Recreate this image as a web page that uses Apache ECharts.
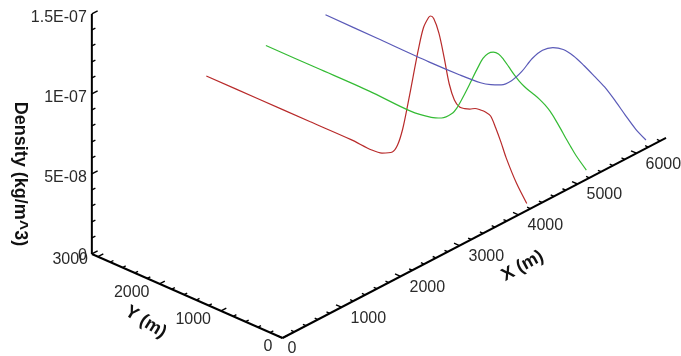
<!DOCTYPE html>
<html>
<head>
<meta charset="utf-8">
<script src="https://cdn.jsdelivr.net/npm/echarts@6/dist/echarts.min.js"></script>
<style>
  html, body { margin: 0; padding: 0; background: #fff; }
  #chart { width: 681px; height: 356px; }
</style>
</head>
<body>
<div id="chart"></div>
<script>
// Density sampled along three straight probe tracks.
// X, Y in metres, density in kg/m^3.
const redX = [1940, 2295, 2650, 2934, 3076, 3146, 3217, 3253, 3288, 3324, 3359, 3395, 3430, 3466, 3480, 3501, 3537, 3572, 3608, 3643, 3679, 3714, 3750, 3785, 3821, 3856, 3892, 3927, 3963, 3998, 4069, 4140];
const redY = [3100, 2600, 2100, 1700, 1500, 1400, 1300, 1250, 1200, 1150, 1100, 1050, 1000, 950, 930, 900, 850, 800, 750, 700, 650, 600, 550, 500, 450, 400, 350, 300, 250, 200, 100, 0];
const redDensity = [7.39e-8, 6.13e-8, 4.87e-8, 3.87e-8, 3.29e-8, 3.13e-8, 3.23e-8, 3.68e-8, 4.70e-8, 6.28e-8, 7.98e-8, 9.68e-8, 11.08e-8, 11.75e-8, 11.85e-8, 11.70e-8, 10.81e-8, 9.33e-8, 7.66e-8, 6.68e-8, 6.25e-8, 6.17e-8, 6.16e-8, 6.21e-8, 6.14e-8, 6.03e-8, 5.79e-8, 5.06e-8, 4.19e-8, 3.24e-8, 1.68e-8, 0.44e-8];

const greenX = [2950, 3305, 3660, 3943, 4085, 4156, 4227, 4263, 4298, 4334, 4369, 4405, 4440, 4476, 4511, 4547, 4582, 4618, 4653, 4689, 4724, 4760, 4795, 4831, 4866, 4902, 4937, 4973, 5008, 5044, 5079, 5150];
const greenY = [3100, 2600, 2100, 1700, 1500, 1400, 1300, 1250, 1200, 1150, 1100, 1050, 1000, 950, 900, 850, 800, 750, 700, 650, 600, 550, 500, 450, 400, 350, 300, 250, 200, 150, 100, 0];
const greenDensity = [7.35e-8, 6.09e-8, 4.83e-8, 3.71e-8, 3.39e-8, 3.38e-8, 3.69e-8, 4.08e-8, 4.66e-8, 5.30e-8, 5.98e-8, 6.64e-8, 7.23e-8, 7.56e-8, 7.66e-8, 7.56e-8, 7.23e-8, 6.78e-8, 6.33e-8, 5.93e-8, 5.61e-8, 5.34e-8, 5.11e-8, 4.84e-8, 4.52e-8, 4.13e-8, 3.64e-8, 3.09e-8, 2.52e-8, 1.98e-8, 1.46e-8, 0.58e-8];

const blueX = [3960, 4315, 4670, 4883, 5025, 5095, 5166, 5237, 5308, 5379, 5450, 5521, 5592, 5663, 5734, 5805, 5876, 5947, 6018, 6089, 6160];
const blueY = [3100, 2600, 2100, 1800, 1600, 1500, 1400, 1300, 1200, 1100, 1000, 900, 800, 700, 600, 500, 400, 300, 200, 100, 0];
const blueDensity = [7.33e-8, 6.02e-8, 4.71e-8, 3.99e-8, 3.57e-8, 3.49e-8, 3.51e-8, 3.80e-8, 4.41e-8, 5.25e-8, 5.80e-8, 6.00e-8, 5.91e-8, 5.54e-8, 4.98e-8, 4.35e-8, 3.70e-8, 2.89e-8, 2.01e-8, 1.17e-8, 0.52e-8];

// Axis tick labels
const xTickValues = [0, 1000, 2000, 3000, 4000, 5000, 6000];
const yTickValues = [0, 1000, 2000, 3000];
const densityTickValues = [0, 5e-8, 1e-7, 1.5e-7];
const densityTickLabels = ['0', '5E-08', '1E-07', '1.5E-07'];

// ---- view setup ----
const X_MAX = 6500, Y_MAX = 3100, D_MAX = 1.5e-7;
// oblique 3D view: screen position of the origin and screen step per unit of each axis
const VIEW = { ox: 282.5, oy: 338, ex: [0.059, -0.0308], ey: [-0.0615, -0.0271], ed: -1.6e9 };

function project(x, y, d) {
  return [
    VIEW.ox + x * VIEW.ex[0] + y * VIEW.ey[0],
    VIEW.oy + x * VIEW.ex[1] + y * VIEW.ey[1] + d * VIEW.ed
  ];
}
function unit(v) { const n = Math.hypot(v[0], v[1]); return [v[0] / n, v[1] / n]; }
const towardX = unit(VIEW.ex);
const towardY = unit(VIEW.ey);

function trackPoints(xs, ys, ds) {
  return xs.map((x, i) => project(x, ys[i], ds[i]));
}

// tick marks: [sx, sy, dirX, dirY, length]
const ticks = [];
for (let x = 0; x <= 6400; x += 200) {
  const p = project(x, 0, 0);
  ticks.push([p[0], p[1], towardY[0], towardY[1], x % 1000 === 0 ? 6 : 3.5]);
}
for (let y = 0; y <= 3000; y += 200) {
  const p = project(0, y, 0);
  ticks.push([p[0], p[1], towardX[0], towardX[1], y % 1000 === 0 ? 6 : 3.5]);
}
for (let k = 0; k <= 15; k++) {
  const p = project(0, Y_MAX, k * 1e-8);
  ticks.push([p[0], p[1], towardX[0], towardX[1], k % 5 === 0 ? 6.5 : 4]);
}

// text items
const LABEL_FONT = { fontSize: 16, fontFamily: '"Liberation Sans", Arial, sans-serif', fill: '#2a2a2a' };
const TITLE_FONT = { fontSize: 18, fontWeight: 'bold', fontFamily: '"Liberation Sans", Arial, sans-serif', fill: '#111' };
const texts = [];
xTickValues.forEach(v => {
  const p = project(v, 0, 0);
  texts.push({ pos: [p[0] + (v === 0 ? 5 : 9), p[1] + 11], text: String(v), align: 'left', font: LABEL_FONT });
});
yTickValues.forEach(v => {
  const p = project(0, v, 0);
  texts.push({ pos: [p[0] - 10, p[1] + (v === 3000 ? 3 : 9)], text: String(v), align: 'right', font: LABEL_FONT });
});
densityTickValues.forEach((v, i) => {
  const p = project(0, Y_MAX, v);
  texts.push({ pos: [p[0] - 5, p[1] + (v === 0 ? 2 : 4)], text: densityTickLabels[i], align: 'right', font: LABEL_FONT });
});
const dTitle = project(0, Y_MAX, 0);
texts.push({ pos: [dTitle[0] - 72, dTitle[1] - 80], text: 'Density (kg/m^3)', align: 'center', rotation: -Math.PI / 2, font: TITLE_FONT });
texts.push({ pos: project(3130, -900, 0), text: 'X (m)', align: 'center', rotation: 0.5, font: TITLE_FONT });
texts.push({ pos: project(-780, 1475, 0), text: 'Y (m)', align: 'center', rotation: -0.56, font: TITLE_FONT });

function axisLine(a, b) {
  return {
    type: 'line', data: [a, b], symbol: 'none', silent: true, animation: false,
    lineStyle: { color: '#000', width: 2 }, z: 3
  };
}
function curve(name, color, pts) {
  return {
    name, type: 'line', data: pts, symbol: 'none', smooth: 0.3,
    lineStyle: { color, width: 1.2 }, z: 2, animation: false
  };
}

const chart = echarts.init(document.getElementById('chart'));
chart.setOption({
  animation: false,
  backgroundColor: '#fff',
  grid: { left: 0, right: 0, top: 0, bottom: 0 },
  xAxis: { type: 'value', min: 0, max: 681, show: false },
  yAxis: { type: 'value', min: 0, max: 356, inverse: true, show: false },
  series: [
    curve('red', '#b82a2a', trackPoints(redX, redY, redDensity)),
    curve('green', '#34bb34', trackPoints(greenX, greenY, greenDensity)),
    curve('blue', '#5a5ab8', trackPoints(blueX, blueY, blueDensity)),
    axisLine(project(0, 0, 0), project(X_MAX, 0, 0)),
    axisLine(project(0, 0, 0), project(0, Y_MAX, 0)),
    axisLine(project(0, Y_MAX, 0), project(0, Y_MAX, D_MAX)),
    {
      type: 'custom', data: ticks, silent: true, z: 4,
      renderItem(params, api) {
        const p = api.coord([api.value(0), api.value(1)]);
        const len = api.value(4);
        return {
          type: 'line',
          shape: { x1: p[0], y1: p[1], x2: p[0] + api.value(2) * len, y2: p[1] + api.value(3) * len },
          style: { stroke: '#000', lineWidth: 1.4 }
        };
      }
    },
    {
      type: 'custom', data: texts.map(t => t.pos), silent: true, z: 5,
      renderItem(params, api) {
        const t = texts[params.dataIndex];
        const p = api.coord([api.value(0), api.value(1)]);
        return {
          type: 'text', x: p[0], y: p[1], rotation: t.rotation || 0,
          style: Object.assign({ text: t.text, align: t.align, verticalAlign: 'middle' }, t.font)
        };
      }
    }
  ]
});
</script>
</body>
</html>
